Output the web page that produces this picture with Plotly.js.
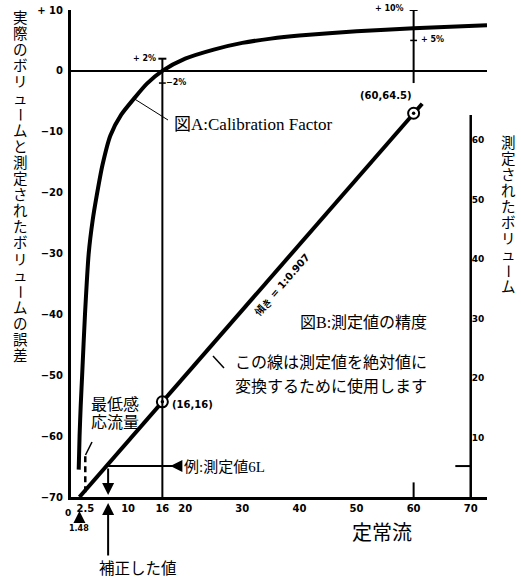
<!DOCTYPE html>
<html><head><meta charset="utf-8">
<script src="https://cdn.plot.ly/plotly-3.0.1.min.js"></script>
<style>html,body{margin:0;padding:0;background:#fff;}#chart{width:521px;height:580px;}</style>
</head><body><div id="chart"></div>
<script>
// ---- data ----
const calibFlow  = [1.35, 1.5, 1.7, 1.95, 2.45, 3.1, 3.8, 4.5, 5.5, 6.9, 8.8, 11, 13.3, 16, 20, 25, 30, 35, 40, 50, 60, 72.85];
const calibError = [-65.5, -60, -55, -50, -40, -30, -24.5, -20.5, -15.5, -10.6, -7.2, -4.6, -2.1, 0, 2.0, 3.5, 4.6, 5.3, 5.8, 6.5, 7.0, 7.5];
const accFlow     = [1.48, 16, 60, 61.5];
const accMeasured = [0, 16, 64.5, 66.1];
const markFlow     = [16, 60];
const markMeasured = [16, 64.5];
const markLabels   = ['(16,16)', '(60,64.5)'];
const xTicks    = [2.5, 10, 16, 20, 30, 40, 50, 60, 70];
const xTickText = ['2.5', '10', '16', '20', '30', '40', '50', '60', '70'];
const yTicks    = [-70, -60, -50, -40, -30, -20, -10, 0, 10];
const yTickText = ['−70', '−60', '−50', '−40', '−30', '−20', '−10', '0', '+ 10'];
const y2Ticks   = [10, 20, 30, 40, 50, 60];
const minFlow = 2.5;
const zeroCross = 1.48;
const exMeasured = 5.2;
const exCorrected = 6.5;
const leftTitle  = '実際のボリュームと測定されたボリュームの誤差';
const rightTitle = '測定されたボリューム';

// ---- layout geometry ----
const W = 521, H = 580, ML = 71, MR = 34, MT = 10, MB = 83;
const PW = W - ML - MR, PH = H - MT - MB;
const XMAX = 72.85, Y2MAX = 81.85;
const px = p => (p - ML) / PW;
const py = p => (H - MB - p) / PH;

const TICKF = {family: 'DejaVu Sans', size: 10, color: '#000', weight: 'bold'};
const JP = 'Liberation Serif, Noto Sans CJK JP, serif';
const BOLD = (s) => ({family: 'DejaVu Sans', size: s, color: '#000', weight: 'bold'});

const traces = [
  {x: calibFlow, y: calibError, yaxis: 'y', mode: 'lines', line: {color: '#000', width: 4, shape: 'spline', smoothing: 0.7}, hoverinfo: 'skip'},
  {x: accFlow, y: accMeasured, yaxis: 'y2', mode: 'lines', line: {color: '#000', width: 4}, hoverinfo: 'skip'},
  {x: markFlow, y: markMeasured, yaxis: 'y2', mode: 'markers', marker: {symbol: 'circle', size: 11, color: '#fff', line: {color: '#000', width: 2}}, cliponaxis: false, hoverinfo: 'skip'},
  {x: markFlow, y: markMeasured, yaxis: 'y2', mode: 'markers', marker: {symbol: 'circle', size: 3.5, color: '#000'}, cliponaxis: false, hoverinfo: 'skip'}
];

const L = (o) => Object.assign({type: 'line', layer: 'above', line: {color: '#000', width: 2}}, o);
const shapes = [
  L({xref: 'x', yref: 'y', x0: 16, x1: 16, y0: 2, y1: -70}),
  L({xref: 'x', yref: 'y', x0: 15.3, x1: 16.7, y0: 2, y1: 2}),
  L({xref: 'x', yref: 'y', x0: 15.4, x1: 16.6, y0: -2, y1: -2, line: {color: '#000', width: 1.5}}),
  L({xref: 'x', yref: 'y', x0: 60, x1: 60, y0: 10, y1: -2}),
  L({xref: 'x', yref: 'y', x0: 59.3, x1: 60.7, y0: 10, y1: 10}),
  L({xref: 'x', yref: 'y', x0: 59.4, x1: 60.6, y0: 5, y1: 5, line: {color: '#000', width: 1.5}}),
  L({xref: 'x', yref: 'y', x0: 60, x1: 60, y0: -70, y1: -67.6}),
  L({xref: 'x', yref: 'y2', x0: 70, x1: 70, y0: 0, y1: 64.2, line: {color: '#000', width: 2.5}}),
  L({xref: 'x', yref: 'y2', x0: 67.3, x1: 70, y0: exMeasured, y1: exMeasured}),
  L({xref: 'x', yref: 'y2', x0: exCorrected, x1: 18.9, y0: exMeasured, y1: exMeasured}),
  L({xref: 'x', yref: 'y', x0: minFlow, x1: minFlow, y0: -63.3, y1: -69.6, line: {color: '#000', width: 2.5, dash: '6px,4px'}}),
  L({xref: 'paper', yref: 'paper', x0: px(133), y0: py(98), x1: px(168), y1: py(120), line: {color: '#000', width: 1}}),
  L({xref: 'paper', yref: 'paper', x0: px(92), y0: py(442), x1: px(85.5), y1: py(455), line: {color: '#000', width: 1.5}}),
  L({xref: 'paper', yref: 'paper', x0: px(213), y0: py(356), x1: px(224), y1: py(368), line: {color: '#000', width: 1.5}})
];

const T = (text, x, y, size, opts) => Object.assign({
  text: text, xref: 'paper', yref: 'paper', x: px(x), y: py(y), showarrow: false,
  xanchor: 'left', yanchor: 'middle', font: {family: JP, size: size, color: '#000'}
}, opts || {});

const annotations = [
  // arrows
  {xref: 'x', yref: 'y2', x: exCorrected, y: 0.35, ax: 0, ay: -28, text: '', showarrow: true, arrowhead: 2, arrowsize: 1.2, arrowwidth: 2, arrowcolor: '#000'},
  {xref: 'x', yref: 'paper', x: exCorrected, y: py(503), ax: 0, ay: 54, text: '', showarrow: true, arrowhead: 2, arrowsize: 1.2, arrowwidth: 2, arrowcolor: '#000'},
  {xref: 'x', yref: 'paper', x: zeroCross, y: py(511), ax: 0, ay: 17, text: '1.48', showarrow: true, arrowhead: 2, arrowsize: 1.2, arrowwidth: 2, arrowcolor: '#000', font: BOLD(8)},
  {xref: 'x', yref: 'y2', x: 17.4, y: exMeasured, ax: 10, ay: 0, text: '', showarrow: true, arrowhead: 2, arrowsize: 1.2, arrowwidth: 2, arrowcolor: '#000'},
  // small bold labels
  T('+ 2%', 144, 58, 8, {xanchor: 'center', font: BOLD(8)}),
  T('−2%', 164, 83, 8, {font: BOLD(8)}),
  T('+ 10%', 406, 8, 8, {xanchor: 'right', font: BOLD(8)}),
  T('+ 5%', 419, 39, 8, {font: BOLD(8)}),
  T('0', 68, 513, 9, {xanchor: 'center', font: BOLD(9)}),
  {xref: 'x', yref: 'y2', x: markFlow[0], y: markMeasured[0], text: markLabels[0], showarrow: false, xanchor: 'left', yanchor: 'middle', xshift: 8, yshift: -3, font: BOLD(10)},
  {xref: 'x', yref: 'y2', x: markFlow[1], y: markMeasured[1], text: markLabels[1], showarrow: false, xanchor: 'right', yanchor: 'middle', xshift: 0, yshift: 18, font: BOLD(10)},
  T('傾き = 1:0.907', 281, 285, 10, {xanchor: 'center', textangle: -49, font: BOLD(10)}),
  // serif texts
  T('図A:Calibration Factor', 172, 124, 17),
  T('最低感', 89, 404, 16),
  T('応流量', 89, 422, 16),
  T('図B:測定値の精度', 298, 323, 16),
  T('この線は測定値を絶対値に', 233, 362, 16),
  T('変換するために使用します', 233, 386, 16),
  T('例:測定値6L', 182, 467, 15),
  T('補正した値', 138, 568, 15.5, {xanchor: 'center'}),
  T('定常流', 382, 533, 20, {xanchor: 'center'})
];

function vertical(str, xPix, yStart, step, size) {
  Array.from(str).forEach((ch, i) => {
    annotations.push({
      text: ch, xref: 'paper', yref: 'paper', x: px(xPix), y: py(yStart + i * step),
      showarrow: false, xanchor: 'center', yanchor: 'middle',
      textangle: ch === 'ー' ? 90 : 0,
      font: {family: JP, size: size, color: '#000'}
    });
  });
}
vertical(leftTitle, 20, 18, 16.1, 14.5);
vertical(rightTitle, 508, 143, 16, 14.5);

const layout = {
  width: W, height: H,
  margin: {l: ML, r: MR, t: MT, b: MB, pad: 0},
  paper_bgcolor: '#fff', plot_bgcolor: '#fff',
  showlegend: false,
  xaxis: {range: [0, XMAX], showline: true, linewidth: 3, linecolor: '#000', showgrid: false, zeroline: false,
          tickvals: xTicks, ticktext: xTickText, ticks: '', tickfont: TICKF, fixedrange: true},
  yaxis: {range: [-70, 10], showline: true, linewidth: 3, linecolor: '#000', showgrid: false,
          zeroline: true, zerolinewidth: 2.5, zerolinecolor: '#000', ticklabelstandoff: 3,
          tickvals: yTicks, ticktext: yTickText, ticks: '', tickfont: TICKF, fixedrange: true},
  yaxis2: {range: [0, Y2MAX], overlaying: 'y', side: 'right', anchor: 'free', position: 70 / XMAX,
           showline: false, showgrid: false, zeroline: false, tickvals: y2Ticks, ticks: '',
           tickfont: BOLD(9), fixedrange: true},
  shapes: shapes,
  annotations: annotations
};

Plotly.newPlot('chart', traces, layout, {displayModeBar: false, staticPlot: true});
</script>
</body></html>
